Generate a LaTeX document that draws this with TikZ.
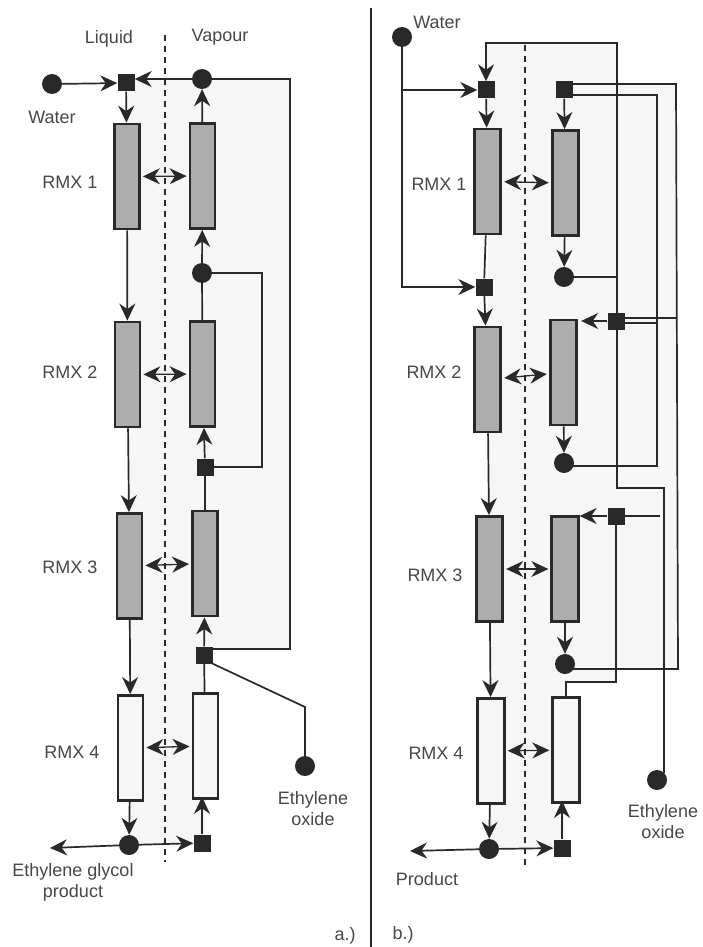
\documentclass[tikz,border=0pt]{standalone}
\usepackage{fontspec}
\setmainfont{Liberation Sans}
\usetikzlibrary{arrows.meta,calc}
\definecolor{ink}{gray}{0.16}
\definecolor{txt}{gray}{0.28}
\definecolor{pale}{gray}{0.965}
\definecolor{mixgrey}{gray}{0.68}
\tikzset{
  >={Stealth[length=17pt,width=16pt,inset=5.5pt]},
  flow/.style={draw=ink,line width=1.7pt},
  ex/.style={draw=ink,line width=1.3pt,<->,shorten <=2pt,shorten >=2pt},
  mix/.style={draw=ink,line width=2.8pt,fill=mixgrey,minimum width=25pt,minimum height=105pt,inner sep=0pt},
  mixl/.style={mix,fill=pale},
  d/.style={circle,fill=ink,minimum size=20pt,inner sep=0pt},
  sq/.style={rectangle,fill=ink,minimum size=17pt,inner sep=0pt},
  lb/.style={text=txt,align=center,font=\fontsize{18}{21}\selectfont,inner sep=0pt},
  sep/.style={draw=ink,line width=1.6pt,dash pattern=on 6pt off 5pt},
}
\begin{document}
\begin{tikzpicture}[x=1pt,y=-1pt]
\useasboundingbox (0,0) rectangle (702,947);
% backgrounds
\fill[pale] (127,80)--(290,80)--(290,649)--(205,649)--(205,845)--(129,845)--cycle;
\fill[pale] (487,43)--(616,43)--(616,84)--(676,84)--(678,669)--(617,669)--(617,682)--(565,682)--(565,850)--(490,850)--cycle;
\draw[sep] (165,35)--(165,862);
\draw[sep] (525,45)--(525,865);
\draw[draw=ink,line width=1.4pt] (371,8)--(371,947);
% columns
\foreach \n/\x/\y in {l1/127/176.5,l2/127.5/374.5,l3/129.5/566,v1/202.5/176,v2/202.5/374,v3/205/563.5}
 \node[mix] (\n) at (\x,\y){};
\foreach \n/\x/\y in {L1/487.5/181.5,L2/487.5/379.5,L3/489.5/569,V1/565.5/183,V2/563.5/372.5,V3/565/569}
 \node[mix,minimum width=26.5pt] (\n) at (\x,\y){};
\foreach \n/\x/\y in {l4/130.5/748,v4/205.5/746}
 \node[mixl] (\n) at (\x,\y){};
\foreach \n/\x/\y in {L4/491/751,V4/566/750}
 \node[mixl,minimum width=26.5pt] (\n) at (\x,\y){};
% mixing points
\foreach \n/\x/\y in {a1/126/83,a2/205/467,a3/204/655,a4/202/843,
  b1/486/90,b2/484/287,b3/564/90,b4/616/321,b5/616/516,b6/562/848}
 \node[sq] (\n) at (\x,\y){};
\foreach \n/\x/\y in {wa/52/84,c1/202/79,c2/202/273,eoa/305/766,pa/129/845,
  wb/402/37,e1/564/277,e2/564/463,e3/565/664,eob/657/780,pb/489/849}
 \node[d] (\n) at (\x,\y){};
\coordinate (aE1) at (290,79);
\coordinate (aE2) at (290,649);
\coordinate (aL) at (262,370);
\coordinate (aK) at (305,707);
\coordinate (aP) at (50,848);
\coordinate (bJ1) at (663,488);
\coordinate (bJ2) at (617,488);
\coordinate (bJ3) at (617,43);
\coordinate (bK) at (566,682);
\coordinate (bR1) at (676,84);
\coordinate (bR2) at (678,669);
\coordinate (bR3) at (676,318);
\coordinate (bM1) at (657,95);
\coordinate (bM2) at (657,466);
\coordinate (bM3) at (657,323);
\coordinate (bN) at (660,516);
\coordinate (bP) at (410,851);
% a.) streams
\draw[flow,->] (wa)--(a1);
\draw[flow,->] (c1)--(a1.east |- c1);
\draw[flow,->] (a1)--(l1);
\draw[flow,->] (v1)--(c1);
\draw[flow,->] (c2)--(v1);
\draw[flow] (v2)--(c2);
\draw[flow,->] (a2)--(v2);
\draw[flow] (v3)--(a2);
\draw[flow,->] (a3)--(v3);
\draw[flow] (v4)--(a3);
\draw[flow,->] (a4)--([yshift=3pt]a4 |- v4.south);
\foreach \i/\j in {l1/l2,l2/l3,l3/l4,l4/pa}
 \draw[flow,->] (\i)--(\j);
\draw[flow,->] (pa)--(a4);
\draw[flow,->] (pa)--(aP);
\draw[flow] (c1)--(aE1)--(aE2)--(a3.east |- aE2);
\draw[flow] (c2)-|(aL)|-(a2);
\draw[flow] (eoa)--(aK)--(a3.south east);
% b.) streams
\draw[flow,->] (wb)|-(b2);
\draw[flow,->] (wb |- b1)--(b1);
\draw[flow,->] (eob.north east)|-(bJ2)--(bJ3)-|(b1);
\draw[flow,->] (b1)--(L1);
\draw[flow,->] (b2)--(L2);
\draw[flow] (L1)--(b2);
\draw[flow,->] (b3)--(V1);
\draw[flow,->] (V1)--(e1);
\draw[flow,->] (V2)--(e2);
\draw[flow,->] (V3)--(e3);
\draw[flow,->] (b4)--([xshift=3pt]V2.east |- b4);
\draw[flow,->] (b5)--(V3.east |- b5);
\draw[flow] (bN)--(b5);
\draw[flow] (b5)|-(bK)--(V4);
\draw[flow] (e1)--(e1 -| b4);
\draw[flow] (b3.east |- bR1)--(bR1)--(bR2)--(e3 |- bR2);
\draw[flow] (b3.east |- bM1)--(bM1)--(bM2)--(e2 |- bM2);
\draw[flow] (b4.east |- bR3)--(bR3);
\draw[flow] (b4.east |- bM3)--(bM3);
\foreach \i/\j in {L2/L3,L3/L4,L4/pb}
 \draw[flow,->] (\i)--(\j);
\draw[flow,->] (pb)--(b6);
\draw[flow,->] (pb)--(bP);
\draw[flow,->] (b6)--([yshift=3pt]b6 |- V4.south);
% exchange
\foreach \i/\j in {l1/v1,l2/v2,l3/v3,l4/v4,L1/V1,L2/V2,L3/V3,L4/V4}
 \draw[ex] (\i)--(\j);
% labels
\foreach \n/\x/\y/\t in {t1/109/39/Liquid,t2/220/37/Vapour,t3/52/117/Water,t4/70/182/RMX 1,t5/70/372/RMX 2,
  t6/70/567/RMX 3,t7/72/752/RMX 4,t8/313/809/Ethylene\\oxide,t9/73/882/Ethylene glycol\\product,t10/345/936/a.),
  t11/437/22/Water,t12/439/184/RMX 1,t13/434/372/RMX 2,t14/435/575/RMX 3,t15/436/753/RMX 4,
  t16/663/822/Ethylene\\oxide,t17/427/879/Product,t18/403/935/b.)}
 \node[lb] (\n) at (\x,\y){\t};
\end{tikzpicture}
\end{document}
